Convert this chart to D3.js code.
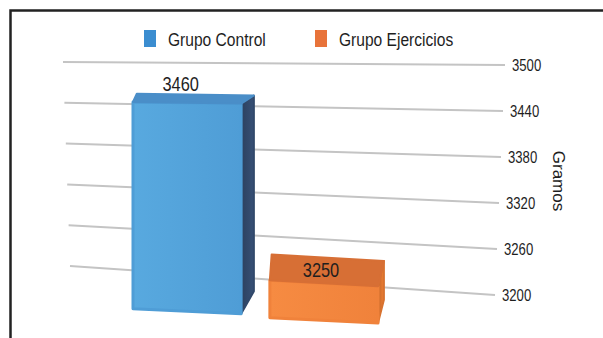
<!DOCTYPE html>
<html>
<head>
<meta charset="utf-8">
<script src="https://cdn.jsdelivr.net/npm/d3@7"></script>
<style>
body { margin: 0; background: #fff; }
text { font-family: "Liberation Sans", Arial, sans-serif; fill: #1e1e1e; }
</style>
</head>
<body>
<svg id="chart" width="603" height="338"></svg>
<script>
// data
var categories = ["Grupo Control", "Grupo Ejercicios"];
var values = [3460, 3250];
var tick_values = [3200, 3260, 3320, 3380, 3440, 3500];
var axis_title = "Gramos";

var bar_colors = [
  {legend: "#3b8dd0", front: "#58a9df", front2: "#4f9dd6", top: "#4a8ec8", side: "#31486a"},
  {legend: "#e8733a", front: "#f68b42", front2: "#f0823b", top: "#d76f35", side: "#d8722f"}
];
var narrow = 0.82; // text in the picture is a condensed face

var svg = d3.select("#chart");

// frame
svg.append("rect").attr("x", 10.5).attr("y", 10.5).attr("width", 620).attr("height", 360)
  .attr("fill", "none").attr("stroke", "#222").attr("stroke-width", 2.5);

// pseudo 3d: back wall scales (left end / right end of each gridline)
var base_value = 3200, top_value = 3500;
var yLeft = d3.scaleLinear().domain([base_value, top_value]).range([266, 62]);
var yRight = d3.scaleLinear().domain([base_value, top_value]).range([295, 65]);
var xLeft = d3.scaleLinear().domain([base_value, top_value]).range([70, 63]);
var xRight = d3.scaleLinear().domain([base_value, top_value]).range([495, 505]);
var horizon = 3560, k_front = 0.118, k_back = 0.035, k_label = 0.145;

function wall(v, x) {
  var t = (x - 66) / 434;
  return yLeft(v) + t * (yRight(v) - yLeft(v));
}
function depthY(v, x, k) { return wall(v, x) + k * (horizon - v); }
function sideShift(x) { return 0.05 * (496 - x); }
function at(x, y) { return "translate(" + x + "," + y + ") scale(" + narrow + ",1)"; }

// gridlines + tick labels
var grid = svg.append("g");
grid.selectAll("line").data(tick_values).enter().append("line")
  .attr("x1", d => xLeft(d)).attr("y1", d => yLeft(d))
  .attr("x2", d => xRight(d)).attr("y2", d => yRight(d))
  .attr("stroke", "#c4c4c4").attr("stroke-width", 2);
grid.selectAll("text").data(tick_values).enter().append("text")
  .attr("transform", d => at(xRight(d) + 7, yRight(d))).attr("dy", "0.35em")
  .style("font-size", "16px").text(d => d);

svg.append("text").attr("transform", "translate(553,181) rotate(90)")
  .attr("text-anchor", "middle").style("font-size", "17px")
  .text(axis_title);

// bars
var x = d3.scaleBand().domain(categories).range([133, 378]).paddingInner(0.21);
var defs = svg.append("defs");
bar_colors.forEach(function (c, i) {
  var g = defs.append("linearGradient").attr("id", "front" + i).attr("x1", 0).attr("x2", 1).attr("y1", 0).attr("y2", 0);
  g.append("stop").attr("offset", 0).attr("stop-color", c.front);
  g.append("stop").attr("offset", 1).attr("stop-color", c.front2);
  var s = defs.append("linearGradient").attr("id", "side" + i).attr("x1", 0).attr("x2", 1).attr("y1", 0).attr("y2", 0);
  s.append("stop").attr("offset", 0).attr("stop-color", d3.color(c.side).darker(0.3));
  s.append("stop").attr("offset", 1).attr("stop-color", d3.color(c.side).brighter(0.3));
});

var line = d3.line();
var bars = svg.selectAll(".bar").data(values).enter().append("g").attr("class", "bar");
bars.each(function (v, i) {
  var g = d3.select(this);
  var x0 = x(categories[i]), x1 = x0 + x.bandwidth();
  var dx = sideShift(x1), dxl = dx * 0.3;
  var kb = k_front - 0.012; // bottom edge recedes a little less
  var front = [[x0, depthY(v, x0, k_front)], [x1, depthY(v, x1, k_front)],
               [x1, depthY(base_value, x1, kb) - 2], [x0, depthY(base_value, x0, kb)]];
  var topf = [[x0, depthY(v, x0, k_front)], [x1, depthY(v, x1, k_front)],
              [x1 + dx, depthY(v, x1 + dx, k_back)], [x0 + dxl, depthY(v, x0 + dxl, k_back)]];
  var side = [[x1, depthY(v, x1, k_front)], [x1 + dx, depthY(v, x1 + dx, k_back)],
              [x1 + dx, depthY(base_value, x1 + dx, k_back)], [x1, depthY(base_value, x1, kb) - 2]];
  g.append("path").attr("d", line(side) + "Z").attr("fill", "url(#side" + i + ")")
    .attr("stroke", bar_colors[i].side).attr("stroke-linejoin", "round").attr("stroke-width", 2);
  g.append("path").attr("d", line(front) + "Z").attr("fill", "url(#front" + i + ")")
    .attr("stroke", bar_colors[i].front2).attr("stroke-linejoin", "round").attr("stroke-width", 3);
  g.append("path").attr("d", line(topf) + "Z").attr("fill", bar_colors[i].top)
    .attr("stroke", bar_colors[i].top).attr("stroke-linejoin", "round").attr("stroke-width", 2);
  var cx = (x0 + x1) / 2 - dx / 2;
  g.append("text").attr("transform", at(cx, depthY(v, cx, k_label) - 14))
    .attr("text-anchor", "middle").style("font-size", "20px").text(v);
});

// legend
var legend_x = [144, 315];
var legend = svg.selectAll(".legend").data(categories).enter().append("g").attr("class", "legend")
  .attr("transform", (d, i) => "translate(" + legend_x[i] + ",30)");
legend.append("rect").attr("width", 12).attr("height", 17).attr("fill", (d, i) => bar_colors[i].legend);
legend.append("text").attr("transform", at(24, 16)).style("font-size", "19px").text(d => d);
</script>
</body>
</html>
